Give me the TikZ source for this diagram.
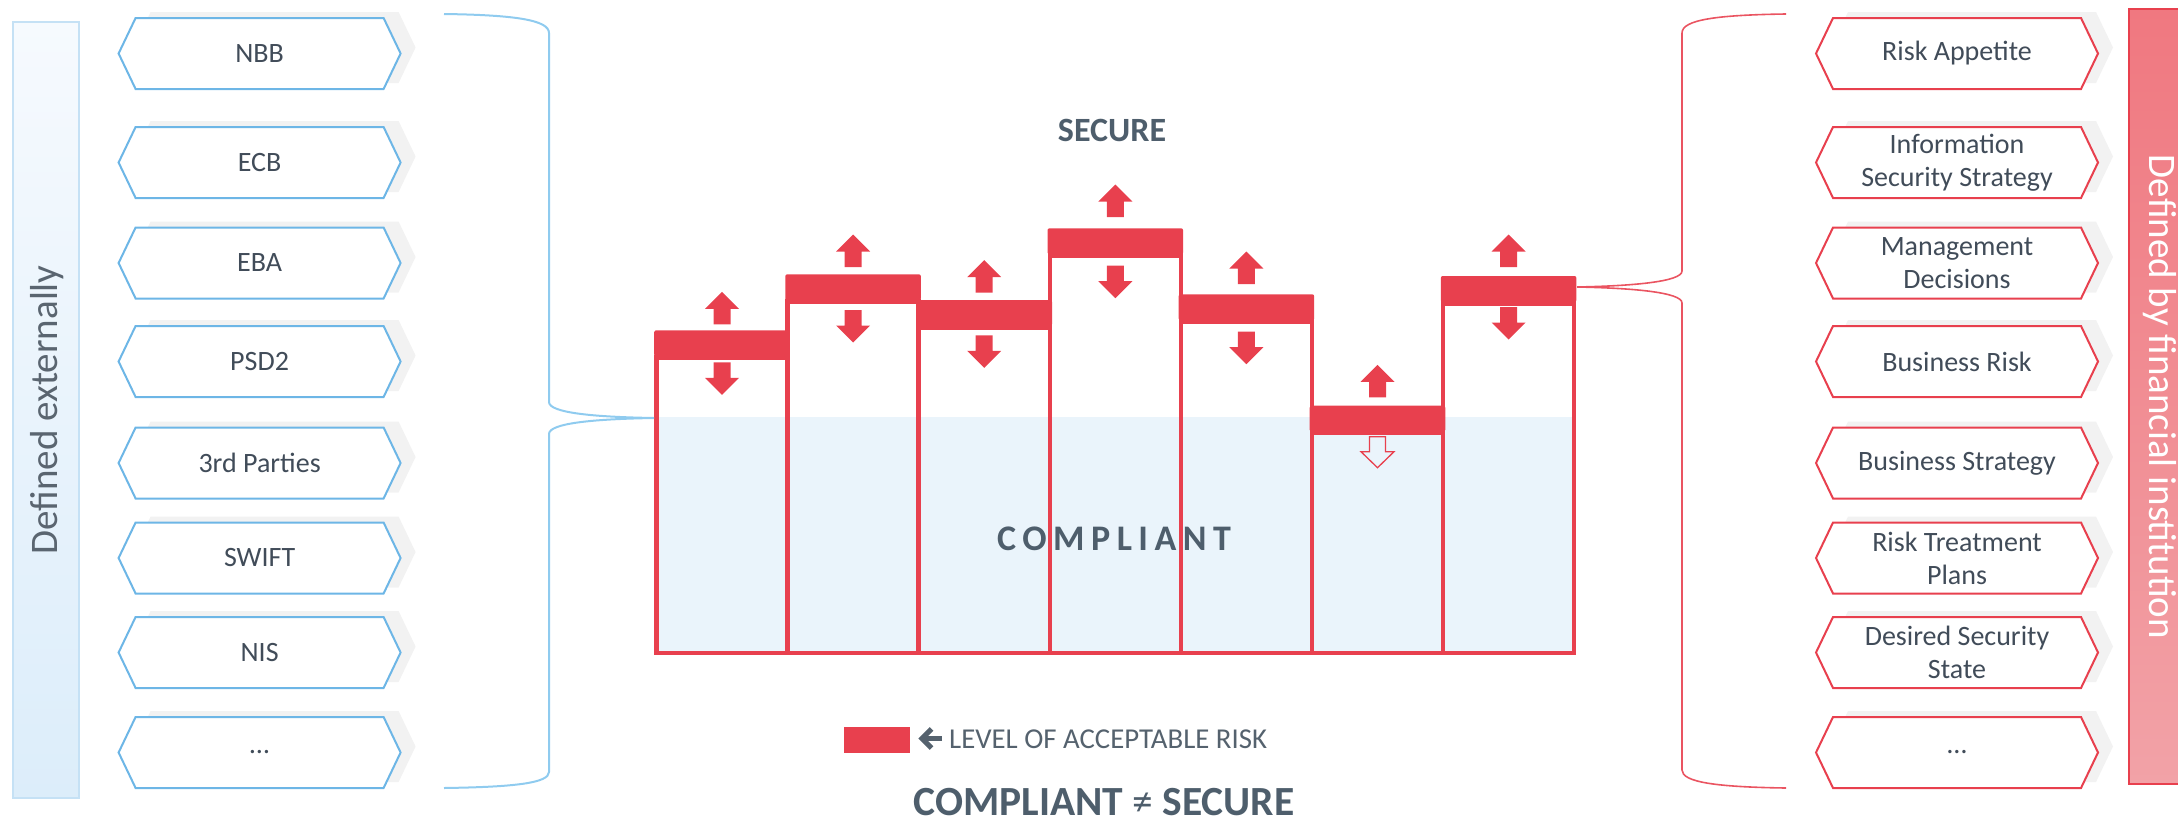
\documentclass[tikz,border=0pt]{standalone}
\usepackage{fontspec}
\setmainfont{Carlito}
\definecolor{riskred}{HTML}{E8404E}
\definecolor{hexblue}{HTML}{6DB6E6}
\definecolor{braceblue}{HTML}{8FCBEF}
\definecolor{bracered}{HTML}{EA5461}
\definecolor{compliantblue}{HTML}{EAF4FB}
\definecolor{hexshade}{HTML}{F2F2F2}
\definecolor{hexink}{HTML}{414C59}
\definecolor{titleink}{HTML}{4E5E6C}
\definecolor{sideink}{HTML}{5A6570}
\definecolor{legendink}{HTML}{55626E}
\definecolor{extbartop}{HTML}{F6FAFE}
\definecolor{extbarbot}{HTML}{DCEDFA}
\definecolor{extbarline}{HTML}{C5E1F5}
\definecolor{instbartop}{HTML}{F07880}
\definecolor{instbarbot}{HTML}{F2A2A7}

% one hexagonal label box: name, centre x, centre y, outline style, text
\newcommand\hexitem[5]{%
  \begin{scope}[shift={(#2,#3)}]
    \fill[hexshade] (-126,-6) -- (-109,-41.5) -- (139,-41.5) -- (156,-6) -- (139,29.5) -- (-109,29.5) -- cycle;
    \draw[#4, fill=white] (-141,0) -- (-124,-35.5) -- (124,-35.5) -- (141,0) -- (124,35.5) -- (-124,35.5) -- cycle;
  \end{scope}
  \node[hextext] (#1) at (#2,#3) {#5};
}

\begin{document}
\begin{tikzpicture}[x=1pt,y=-1pt,
  hextext/.style={align=center, inner sep=0pt, text=hexink, font=\fontsize{28}{33}\selectfont},
  exthex/.style={draw=hexblue, line width=2pt, line join=miter},
  insthex/.style={draw=riskred, line width=2pt, line join=miter},
  colline/.style={draw=riskred, line width=4.5pt},
  levelbar/.style={fill=riskred, rounded corners=2pt},
  bluebrace/.style={draw=braceblue, line width=2pt},
  redbrace/.style={draw=bracered, line width=1.6pt},
  uparrowpic/.pic={\fill[riskred] (-8.5,0) -- (-8.5,-15.5) -- (-17,-15.5) -- (0,-32.5) -- (17,-15.5) -- (8.5,-15.5) -- (8.5,0) -- cycle;},
  downarrowpic/.pic={\fill[riskred] (-8.5,0) -- (-8.5,15.5) -- (-17,15.5) -- (0,32.5) -- (17,15.5) -- (8.5,15.5) -- (8.5,0) -- cycle;},
  hollowdownpic/.pic={\draw[riskred, line width=1.3pt, line join=miter] (-8,0) -- (-8,15) -- (-16.5,15) -- (0,31) -- (16.5,15) -- (8,15) -- (8,0) -- cycle;}
]
\useasboundingbox (0,0) rectangle (2178,822);

% side bars
\shade[top color=extbartop, bottom color=extbarbot, draw=extbarline, line width=1.5pt] (13,22) rectangle (79,798);
\node[rotate=90, text=sideink, inner sep=0pt, font=\fontsize{39}{45}\selectfont] (external) at (47,410) {Defined externally};
\shade[top color=instbartop, bottom color=instbarbot, draw=riskred, line width=2pt] (2129,9) rectangle (2190,784);
\node[rotate=-90, text=white, inner sep=0pt, font=\fontsize{39}{45}\selectfont] (internal) at (2160,397) {Defined by financial institution};

% external requirements
\hexitem{nbb}{259.6}{53.5}{exthex}{NBB}
\hexitem{ecb}{259.6}{162.5}{exthex}{ECB}
\hexitem{eba}{259.6}{263}{exthex}{EBA}
\hexitem{psd}{259.6}{361.5}{exthex}{PSD2}
\hexitem{third}{259.6}{463}{exthex}{3rd Parties}
\hexitem{swift}{259.6}{558}{exthex}{SWIFT}
\hexitem{nis}{259.6}{652.5}{exthex}{NIS}
\hexitem{extmore}{259.6}{752.5}{exthex}{…}

% internal requirements
\hexitem{appetite}{1957}{53.5}{insthex}{Risk Appetite}
\hexitem{infosec}{1957}{162.5}{insthex}{Information\\Security Strategy}
\hexitem{mgmt}{1957}{263}{insthex}{Management\\Decisions}
\hexitem{bizrisk}{1957}{361.5}{insthex}{Business Risk}
\hexitem{bizstrat}{1957}{463}{insthex}{Business Strategy}
\hexitem{treat}{1957}{558}{insthex}{Risk Treatment\\Plans}
\hexitem{desired}{1957}{652.5}{insthex}{Desired Security\\State}
\hexitem{intmore}{1957}{752.5}{insthex}{…}

% compliance zone
\fill[compliantblue] (656.5,417) rectangle (1574.2,653);
\coordinate (compliantline) at (654,418);
\coordinate (col7level) at (1577,287);

% columns with their level bars and arrows
\foreach \i/\bt/\ub/\dt in {1/330.3/324.3/362.3, 2/274.3/267/310, 3/300/292.7/335.3, 4/228.3/217/265.7, 5/294.3/284/331.7, 6/405.7/397.3/436.7, 7/276/267/307}{
  \pgfmathsetmacro\cx{722+131.1*(\i-1)}
  \pgfmathsetmacro\xl{\cx-65.55}
  \pgfmathsetmacro\xr{\cx+65.55}
  \pgfmathsetmacro\bb{\bt+25}
  \draw[colline] (\xl,\bb+2.25) rectangle (\xr,653);
  \fill[levelbar] (\xl-2.25,\bt) rectangle (\xr+2.25,\bb+1);
  \pic at (\cx,\ub) {uparrowpic};
  \ifnum\i=6
    \pic at (\cx,\dt) {hollowdownpic};
  \else
    \pic at (\cx,\dt) {downarrowpic};
  \fi
}

% braces
\draw[bluebrace] (444,14) .. controls (515,15) and (549,20) .. (549,33) -- (549,402)
  .. controls (549,413) and (595,417) .. (compliantline)
  .. controls (595,419) and (549,423) .. (549,434) -- (549,772)
  .. controls (549,783) and (515,787) .. (444,788);
\draw[redbrace] (1786,14) .. controls (1715,15) and (1682,20) .. (1682,33) -- (1682,271)
  .. controls (1682,282) and (1630,286) .. (col7level)
  .. controls (1630,288) and (1682,292) .. (1682,303) -- (1682,770)
  .. controls (1682,782) and (1715,787) .. (1786,788);

% labels
\node[text=titleink, inner sep=0pt, font=\bfseries\fontsize{34}{40}\selectfont] (secure) at (1112,130) {SECURE};
\node[text=titleink, inner sep=0pt, font=\bfseries\fontsize{36}{42}\selectfont\addfontfeature{LetterSpace=18}] (compliant) at (1114,539) {COMPLIANT};

% legend
\node[fill=riskred, minimum width=66pt, minimum height=25.4pt, inner sep=0pt] (legendbar) at (877,740) {};
\draw[legendink, line width=5pt] (942,738.5) -- (922,738.5);
\draw[legendink, line width=5pt, line join=miter] (931.5,729) -- (922,738.5) -- (931.5,748);
\node[anchor=west, text=legendink, inner sep=0pt, font=\fontsize{28.8}{34}\selectfont] (legendtext) at (949,739.2) {LEVEL OF ACCEPTABLE RISK};

\node[text=titleink, inner sep=0pt, font=\bfseries\fontsize{41.5}{47}\selectfont] (motto) at (1104,802) {COMPLIANT {\mdseries ≠} SECURE};
\end{tikzpicture}
\end{document}
